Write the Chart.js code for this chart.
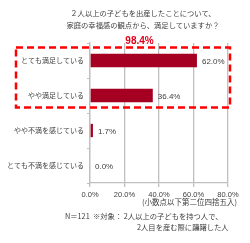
<!DOCTYPE html>
<html>
<head>
<meta charset="utf-8">
<script src="https://cdn.jsdelivr.net/npm/chart.js"></script>
<style>
  body { margin: 0; background: #fff; }
  #wrap { position: relative; width: 250px; height: 243px; font-family: "Noto Sans CJK JP", sans-serif; color: #404040; }
  #chart { position: absolute; left: 0; top: 0; }
  .t { position: absolute; white-space: nowrap; line-height: 1; }
</style>
</head>
<body>
<div id="wrap">
  <canvas id="chart" width="250" height="243"></canvas>
  <div class="t" style="left:0;width:286px;top:10px;font-size:7.3px;text-align:center;">２人以上の子どもを出産したことについて、</div>
  <div class="t" style="left:0;width:286px;top:22px;font-size:7.3px;text-align:center;">家庭の幸福感の観点から、満足していますか？</div>
  <div class="t" style="right:13px;top:198px;font-size:7.5px;">(小数点以下第二位四捨五入)</div>
  <div class="t" style="left:65px;top:213px;font-size:7.3px;">N＝121&nbsp;&nbsp;※対象：&nbsp;2人以上の子どもを持つ人で、</div>
  <div class="t" style="left:137px;top:224px;font-size:7.3px;">2人目を産む際に躊躇した人</div>
</div>
<script>
// Data
const categories = ["とても満足している", "やや満足している", "やや不満を感じている", "とても不満を感じている"];
const values = [62.0, 36.4, 1.7, 0.0];
const xTicks = [0, 20, 40, 60, 80];
const totalLabel = "98.4%";

// Value labels at the end of each bar
const valueLabels = {
  id: "valueLabels",
  afterDatasetsDraw(chart) {
    const ctx = chart.ctx;
    const meta = chart.getDatasetMeta(0);
    ctx.save();
    ctx.font = "8px 'Liberation Sans', Arial, sans-serif";
    ctx.fillStyle = "#404040";
    ctx.textBaseline = "middle";
    meta.data.forEach((bar, i) => {
      ctx.fillText(values[i].toFixed(1) + "%", bar.x + 5, bar.y + 1);
    });
    ctx.restore();
  },
};

// Red dashed box around the two "satisfied" rows
const dashedBox = {
  id: "dashedBox",
  afterDraw(chart) {
    const ctx = chart.ctx;
    const x = chart.scales.x;
    const y = chart.scales.y;
    const top = y.getPixelForValue(0) - 13;
    const bottom = y.getPixelForValue(1) + 12;
    const left = 16;
    const right = x.getPixelForValue(80) + 2;
    ctx.save();
    ctx.strokeStyle = "#ff0000";
    ctx.lineWidth = 2.5;
    ctx.setLineDash([7, 4]);
    ctx.strokeRect(left, top, right - left, bottom - top);
    ctx.setLineDash([]);
    ctx.font = "bold 10px 'Liberation Sans', Arial, sans-serif";
    ctx.fillStyle = "#e3001b";
    ctx.textAlign = "center";
    ctx.textBaseline = "middle";
    ctx.fillText(totalLabel, x.getPixelForValue(28.7), top - 6);
    ctx.restore();
  },
};

new Chart(document.getElementById("chart"), {
  type: "bar",
  data: {
    labels: categories,
    datasets: [
      {
        data: values,
        backgroundColor: "#a50021",
        barPercentage: 0.38,
        categoryPercentage: 1,
      },
    ],
  },
  options: {
    indexAxis: "y",
    responsive: false,
    animation: false,
    layout: { padding: { top: 43, right: 22, left: 0, bottom: 0 } },
    plugins: { legend: { display: false }, tooltip: { enabled: false } },
    scales: {
      x: {
        min: 0,
        max: 80,
        afterBuildTicks: (scale) => {
          scale.ticks = xTicks.map((v) => ({ value: v }));
        },
        afterFit: (scale) => {
          scale.height = 60;
        },
        ticks: {
          callback: (v) => v.toFixed(1) + "%",
          color: "#404040",
          font: { size: 7.5, family: "'Liberation Sans', Arial, sans-serif" },
          padding: 3,
          maxRotation: 0,
        },
        grid: { color: "#bfbfbf", lineWidth: 1.3, tickLength: 4 },
        border: { color: "#bfbfbf", width: 1.3 },
      },
      y: {
        afterFit: (scale) => {
          scale.width = 90;
        },
        ticks: {
          color: "#404040",
          font: { size: 7, family: "'Noto Sans CJK JP', sans-serif" },
          padding: 3,
        },
        grid: { offset: true, drawOnChartArea: false, color: "#bfbfbf", tickLength: 3 },
        border: { color: "#bfbfbf", width: 1.3 },
      },
    },
  },
  plugins: [valueLabels, dashedBox],
});
</script>
</body>
</html>
